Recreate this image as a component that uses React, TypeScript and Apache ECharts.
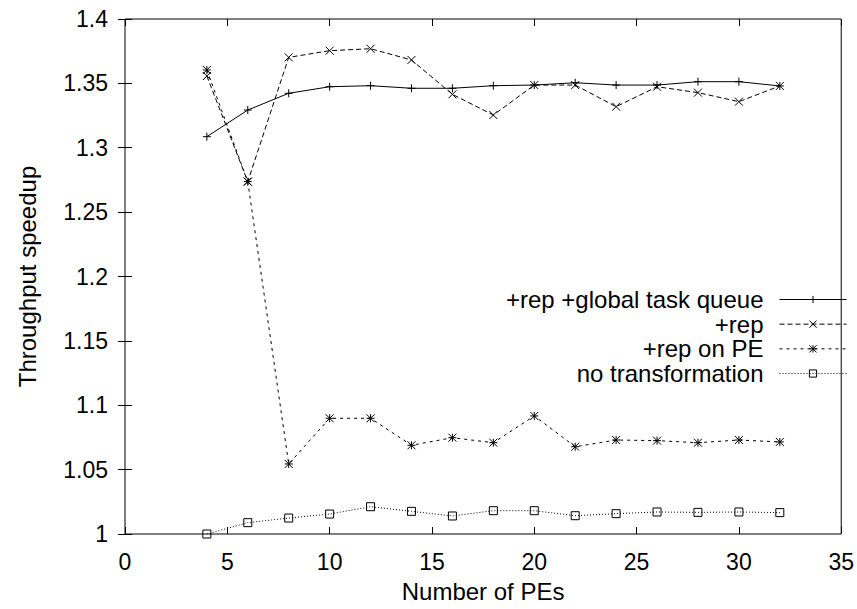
import React, { useEffect, useRef } from "react";
import * as echarts from "echarts";

const peCounts = [4, 6, 8, 10, 12, 14, 16, 18, 20, 22, 24, 26, 28, 30, 32];
const globalQueue = [1.3086, 1.3293, 1.3423, 1.3474, 1.3482, 1.3462, 1.3462, 1.3482, 1.3487, 1.3505, 1.3487, 1.3487, 1.3513, 1.3513, 1.348];
const repOnly = [1.3557, 1.2737, 1.3702, 1.3754, 1.3769, 1.3682, 1.3415, 1.3254, 1.3487, 1.3487, 1.3319, 1.3474, 1.3428, 1.3358, 1.348];
const repOnPE = [1.3604, 1.2737, 1.0544, 1.0899, 1.0899, 1.0689, 1.0748, 1.0709, 1.0917, 1.0678, 1.073, 1.0725, 1.0709, 1.073, 1.0715];
const noTransform = [1.0, 1.0088, 1.0124, 1.0155, 1.0212, 1.0176, 1.014, 1.0181, 1.0181, 1.0142, 1.0158, 1.0171, 1.0168, 1.0171, 1.0166];

const seriesNames = ["+rep +global task queue", "+rep", "+rep on PE", "no transformation"];

const FONT = "'Liberation Sans', Arial, Helvetica, sans-serif";

const SYM_PLUS = "path://M0,5L10,5M5,0L5,10";
const SYM_CROSS = "path://M0,0L10,10M10,0L0,10";
const SYM_STAR = "path://M0,5L10,5M5,0L5,10M0,0L10,10M10,0L0,10";
const SYM_SQUARE = "path://M0,0L10,0L10,10L0,10Z";

function pairs(values: number[]) {
  return peCounts.map((x, i) => [x, values[i]]);
}

export default function App() {
  const ref = useRef<HTMLDivElement>(null);
  useEffect(() => {
    if (!ref.current) return;
    const chart = echarts.init(ref.current, undefined, { renderer: "svg" });
    const mk = (name: string, values: number[], symbol: string, dash: any) => ({
      name,
      type: "line",
      data: pairs(values),
      symbol,
      symbolSize: 8,
      showAllSymbol: true,
      color: "#000",
      lineStyle: { color: "#000", width: 1, type: dash },
      itemStyle: { color: "transparent", borderColor: "#000", borderWidth: 1 },
      emphasis: { disabled: true },
    });
    const tickStyle = { color: "#000", fontFamily: FONT, fontSize: 23 };
    const textStyle = { color: "#000", fontFamily: FONT, fontSize: 24 };
    chart.setOption({
      animation: false,
      backgroundColor: "#fff",
      textStyle: { fontFamily: FONT },
      grid: {
        left: 125,
        top: 19,
        right: 15,
        bottom: 75,
        show: true,
        borderColor: "#000",
        borderWidth: 1,
        backgroundColor: "transparent",
      },
      legend: {
        orient: "vertical",
        right: 10,
        top: 287.5,
        padding: 0,
        align: "right",
        itemWidth: 67,
        itemHeight: 9,
        itemGap: 0.67,
        selectedMode: false,
        lineStyle: { width: 1 },
        itemStyle: { borderWidth: 1 },
        textStyle: { ...textStyle, padding: [0, 11, 0, 0] },
        data: seriesNames,
      },
      xAxis: [
        {
          type: "value",
          min: 0,
          max: 35,
          interval: 5,
          position: "bottom",
          name: "Number of PEs",
          nameLocation: "middle",
          nameGap: 45,
          nameTextStyle: textStyle,
          axisLine: { show: false },
          axisTick: { inside: true, length: 7, lineStyle: { color: "#000" } },
          axisLabel: { ...tickStyle, margin: 16 },
          splitLine: { show: false },
        },
        {
          type: "value",
          min: 0,
          max: 35,
          interval: 5,
          position: "top",
          axisLine: { show: false },
          axisTick: { inside: true, length: 7, lineStyle: { color: "#000" } },
          axisLabel: { show: false },
          splitLine: { show: false },
        },
      ],
      yAxis: [
        {
          type: "value",
          min: 1,
          max: 1.4,
          interval: 0.05,
          position: "left",
          name: "Throughput speedup",
          nameLocation: "middle",
          nameGap: 86,
          nameTextStyle: textStyle,
          axisLine: { show: false },
          axisTick: { inside: true, length: 7, lineStyle: { color: "#000" } },
          axisLabel: { ...tickStyle, margin: 17 },
          splitLine: { show: false },
        },
        {
          type: "value",
          min: 1,
          max: 1.4,
          interval: 0.05,
          position: "right",
          axisLine: { show: false },
          axisTick: { inside: true, length: 7, lineStyle: { color: "#000" } },
          axisLabel: { show: false },
          splitLine: { show: false },
        },
      ],
      series: [
        mk(seriesNames[0], globalQueue, SYM_PLUS, "solid"),
        mk(seriesNames[1], repOnly, SYM_CROSS, [5, 3]),
        mk(seriesNames[2], repOnPE, SYM_STAR, [3, 4]),
        mk(seriesNames[3], noTransform, SYM_SQUARE, [1, 2]),
      ],
    });
    return () => chart.dispose();
  }, []);
  return (
    <div
      ref={ref}
      style={{ position: "fixed", left: 0, top: 0, width: 857, height: 609, background: "#fff" }}
    />
  );
}
